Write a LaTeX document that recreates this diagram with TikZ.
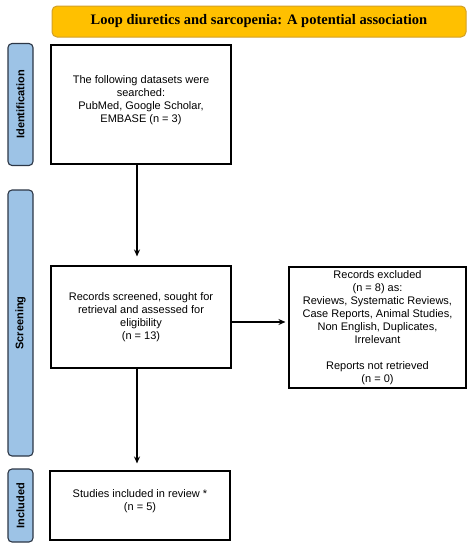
\documentclass[tikz,border=0pt]{standalone}
\usepackage{fontspec}
\setmainfont{Liberation Serif}
\setsansfont{Liberation Sans}
\usetikzlibrary{arrows.meta}
\definecolor{titlefill}{RGB}{255,192,0}
\definecolor{titledraw}{RGB}{210,160,40}
\definecolor{tabfill}{RGB}{157,195,230}
\definecolor{tabdraw}{RGB}{45,55,70}
\tikzset{
  stagebox/.style={draw=black, line width=1.1pt, fill=white, align=center, inner sep=2pt,
    font=\sffamily\fontsize{11}{13}\selectfont},
  tabbox/.style={draw=tabdraw, line width=1.1pt, fill=tabfill, rounded corners=4pt},
  tablabel/.style={rotate=90, font=\sffamily\bfseries\fontsize{11}{13}\selectfont},
  flow/.style={line width=1.3pt, -{Stealth[length=7pt,width=6pt]}}
}
\begin{document}
\begin{tikzpicture}[x=1pt,y=-1pt]
\useasboundingbox (0,0) rectangle (475,550);
% title
\node[draw=titledraw, line width=1pt, fill=titlefill, rounded corners=5pt,
  minimum width=414pt, minimum height=31pt,
  font=\bfseries\fontsize{14.5}{16}\selectfont] (title) at (259,21.5)
  {Loop diuretics and sarcopenia: A potential association};
% tabs
\node[tabbox, minimum width=25pt, minimum height=122pt] (tabid) at (20.5,104.5) {};
\node[tablabel] (tabidl) at (tabid.center) {Identification};
\node[tabbox, minimum width=25pt, minimum height=266pt] (tabsc) at (20.5,323) {};
\node[tablabel] (tabscl) at (tabsc.center) {Screening};
\node[tabbox, minimum width=25pt, minimum height=73pt] (tabin) at (20.5,505.5) {};
\node[tablabel] (tabinl) at (tabin.center) {Included};
% boxes
\node[stagebox, minimum width=180pt, minimum height=119pt] (b1) at (141,104.5)
  {The following datasets were\\searched:\\PubMed, Google Scholar,\\EMBASE (n = 3)\\[-3pt]\mbox{}};
\node[stagebox, minimum width=180pt, minimum height=102pt] (b2) at (141,317)
  {Records screened, sought for\\retrieval and assessed for\\eligibility\\(n = 13)};
\node[stagebox, minimum width=177pt, minimum height=121pt] (b4) at (377.5,327.5)
  {Records excluded\\(n = 8) as:\\Reviews, Systematic Reviews,\\Case Reports, Animal Studies,\\Non English, Duplicates,\\Irrelevant\\[13pt]Reports not retrieved\\(n = 0)};
\node[stagebox, minimum width=180pt, minimum height=69pt] (b3) at (140,505.5)
  {Studies included in review *\\(n = 5)\\[-3pt]\mbox{}};
% connectors
\draw[flow, shorten >=9pt] ([xshift=-4pt]b1.south) -- ([xshift=-4pt]b2.north);
\draw[flow, shorten >=7pt] ([xshift=-4pt]b2.south) -- ([xshift=-3pt]b3.north);
\draw[flow, shorten >=3pt] ([yshift=-5pt]b2.east) -- ([yshift=-5pt]b2.east -| b4.west);
\end{tikzpicture}
\end{document}
